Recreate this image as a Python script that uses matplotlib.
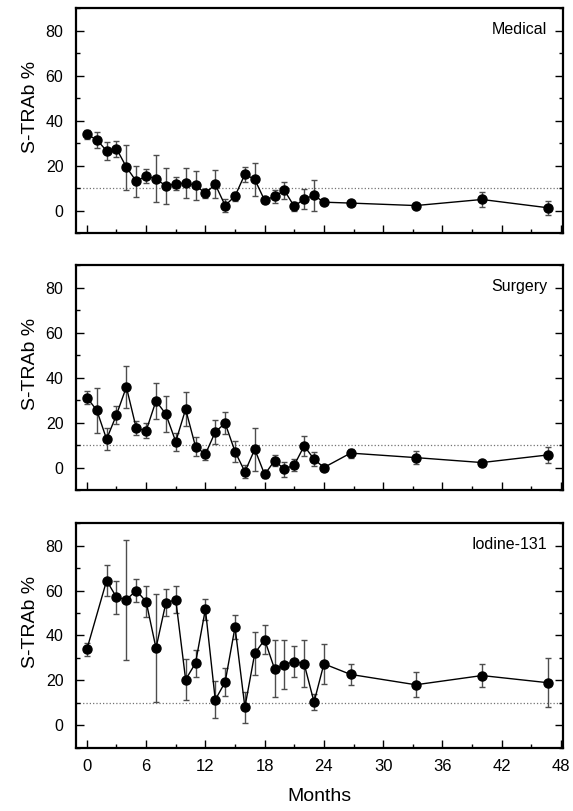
import matplotlib
matplotlib.use("Agg")
import matplotlib.pyplot as plt
from matplotlib.ticker import MultipleLocator

plt.rcParams["font.family"] = ["Liberation Sans", "DejaVu Sans"]

# Follow-up months (same sampling for all three treatment groups)
months = [0, 1, 2, 3, 4, 5, 6, 7, 8, 9, 10, 11, 12, 13, 14, 15, 16, 17, 18,
          19, 20, 21, 22, 23, 24, 26.7, 33.3, 40, 46.7]

medical_months = months
medical_mean = [33.8, 31.5, 26.5, 27.5, 19.3, 13.0, 15.3, 14.1, 10.9, 11.9, 12.2,
                11.2, 7.7, 11.6, 2.2, 6.4, 16.1, 13.8, 4.5, 6.3, 8.9, 1.8,
                5.2, 6.7, 3.7, 3.3, 2.2, 4.9, 1.2]
medical_err = [2.2, 3.5, 4.0, 3.6, 10.0, 7.0, 3.0, 10.4, 8.0, 3.0, 6.7,
               6.5, 2.0, 6.2, 3.0, 2.0, 3.3, 7.4, 1.0, 3.0, 3.7, 2.0,
               4.5, 6.9, 0.5, 0.5, 1.0, 3.3, 3.2]

surgery_months = months
surgery_mean = [31.1, 25.5, 12.6, 23.4, 35.8, 17.5, 16.3, 29.6, 23.7, 11.5, 25.9,
                9.3, 5.9, 15.8, 19.7, 7.1, -1.9, 8.1, -3.1, 3.0, -0.7, 1.1,
                9.6, 3.7, 0.0, 6.4, 4.4, 2.2, 5.6]
surgery_err = [3.0, 10.0, 5.0, 4.0, 9.5, 3.0, 3.3, 8.0, 8.0, 4.0, 7.5,
               4.3, 2.5, 5.5, 5.0, 4.6, 2.8, 9.6, 1.5, 2.4, 3.3, 2.5,
               4.3, 3.0, 1.0, 2.0, 3.0, 0.5, 3.5]

iodine_months = [0, 2, 3, 4, 5, 6, 7, 8, 9, 10, 11, 12, 13, 14, 15, 16, 17, 18,
                 19, 20, 21, 22, 23, 24, 26.7, 33.3, 40, 46.7]
iodine_mean = [33.8, 64.4, 57.0, 55.9, 60.0, 55.1, 34.4, 54.5, 55.9, 20.4, 27.7,
               51.7, 11.4, 19.3, 43.7, 8.1, 32.1, 38.1, 25.2, 27.1, 28.4,
               27.4, 10.4, 27.4, 22.7, 18.1, 22.2, 19.0]
iodine_err = [2.8, 7.0, 7.3, 26.6, 5.0, 6.7, 24.0, 6.0, 6.0, 9.0, 6.0,
              4.7, 8.2, 6.3, 5.3, 7.0, 9.6, 6.5, 12.7, 10.7, 7.0,
              10.4, 3.7, 9.0, 4.7, 5.5, 5.2, 11.0]

groups = ["Medical", "Surgery", "Iodine-131"]
cutoff = 10

fig = plt.figure(figsize=(5.73, 8.11), dpi=100)
left, width, height = 0.1326, 0.8499, 0.2774
bottoms = [0.7127, 0.3958, 0.0777]

series = [
    (medical_months, medical_mean, medical_err),
    (surgery_months, surgery_mean, surgery_err),
    (iodine_months, iodine_mean, iodine_err),
]

for i, (name, (x, y, err)) in enumerate(zip(groups, series)):
    ax = fig.add_axes([left, bottoms[i], width, height])
    ax.axhline(cutoff, color="0.45", linestyle=":", linewidth=0.9, zorder=1)
    ax.errorbar(x, y, yerr=err, fmt="none", ecolor="0.3", elinewidth=1.0,
                capsize=2.5, capthick=1.0, zorder=2)
    ax.plot(x, y, color="black", linewidth=1.0, marker="o", markersize=6.5,
            markerfacecolor="black", markeredgecolor="black", zorder=3)

    ax.set_xlim(-1.1, 48.2)
    ax.set_ylim(-10, 90)
    ax.xaxis.set_major_locator(MultipleLocator(6))
    ax.xaxis.set_minor_locator(MultipleLocator(3))
    ax.yaxis.set_major_locator(MultipleLocator(20))
    ax.yaxis.set_minor_locator(MultipleLocator(10))
    ax.tick_params(axis="both", which="both", direction="in", right=True,
                   width=1.0)
    ax.tick_params(axis="both", which="major", length=6)
    ax.tick_params(axis="both", which="minor", length=3)
    ax.tick_params(axis="y", labelsize=11.5, pad=9)
    ax.tick_params(axis="x", labelsize=12, pad=8)
    ax.set_yticks([0, 20, 40, 60, 80])
    for spine in ax.spines.values():
        spine.set_linewidth(1.6)

    ax.set_ylabel("S-TRAb %", fontsize=14)
    ax.yaxis.set_label_coords(-0.076, 0.56)
    ax.text(0.967, 0.905, name, transform=ax.transAxes, ha="right", va="center",
            fontsize=11.5)

    if i < 2:
        ax.tick_params(axis="x", labelbottom=False)
    else:
        ax.set_xlabel("Months", fontsize=14, labelpad=10)

fig.savefig("out.png", dpi=100)
